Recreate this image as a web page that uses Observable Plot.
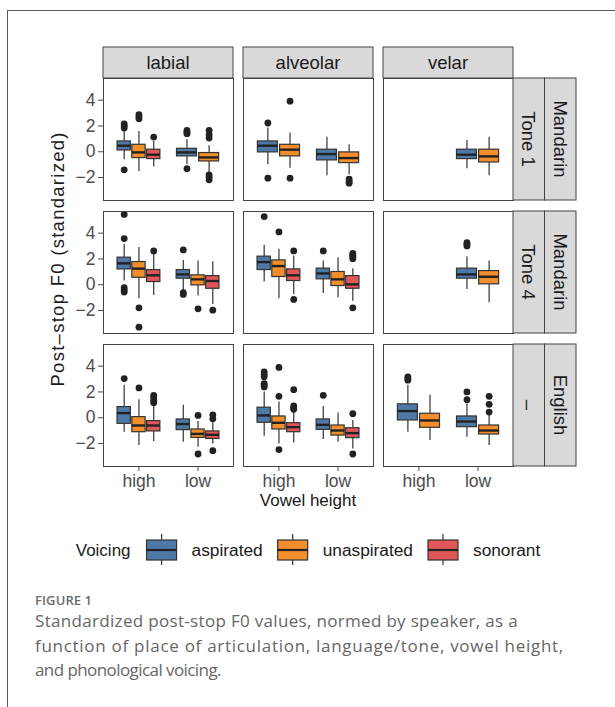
<!DOCTYPE html>
<html><head><meta charset="utf-8">
<script src="https://cdn.jsdelivr.net/npm/d3@7"></script>
<script src="https://cdn.jsdelivr.net/npm/@observablehq/plot@0.6"></script>
<style>
body{margin:0;background:#fff;}
#frame{position:absolute;left:7px;top:10px;width:640px;height:720px;border-left:1px solid #5a5a5a;border-top:1px solid #5a5a5a;}
#chart{position:absolute;left:0;top:0;}
#figlabel{position:absolute;left:35px;top:591px;font-family:"Open Sans";font-size:13px;line-height:18px;font-weight:600;color:#6b6b6b;letter-spacing:0.1px;}
#caption{position:absolute;left:35px;top:609px;font-family:"Open Sans";font-size:17px;line-height:24.5px;color:#666;white-space:nowrap;}
#caption span{display:inline-block;}
</style></head><body>
<div id="frame"></div>
<div id="chart"></div>
<div id="figlabel">FIGURE 1</div>
<div id="caption"><span class="cl">Standardized post-stop F0 values, normed by speaker, as a</span><br><span class="cl">function of place of articulation, language/tone, vowel height,</span><br><span class="cl">and phonological voicing.</span></div>
<script>
const places = ["labial", "alveolar", "velar"];
const tones = ["Tone 1", "Tone 4", "–"];
const languages = ["Mandarin", "Mandarin", "English"];
const heights = ["high", "low"];
const voicings = ["aspirated", "unaspirated", "sonorant"];
const voicingColors = ["#4E79A7", "#F28E2B", "#E15759"];
const yTicks = [-2, 0, 2, 4];

// [place, height, voicing, lowerWhisker, q1, median, q3, upperWhisker, outliers]
const tone1Boxes = [
  ["labial", "high", "aspirated", -0.62, 0.10, 0.47, 0.80, 1.58, [2.15, 2.0, 1.85, -1.40]],
  ["labial", "high", "unaspirated", -1.53, -0.49, -0.05, 0.54, 1.58, [2.88, 2.70, 2.55]],
  ["labial", "high", "sonorant", -1.19, -0.57, -0.23, 0.16, 0.80, [1.14]],
  ["labial", "low", "aspirated", -1.01, -0.36, -0.05, 0.23, 0.93, [1.66, 1.50, 1.40, -1.32]],
  ["labial", "low", "unaspirated", -1.61, -0.75, -0.44, -0.10, 0.47, [1.66, 1.32, 1.06, -1.79, -1.97, -2.18]],
  ["alveolar", "high", "aspirated", -1.01, -0.05, 0.47, 0.80, 1.84, [2.23, -2.05]],
  ["alveolar", "high", "unaspirated", -1.27, -0.36, 0.16, 0.54, 1.45, [3.92, -2.05]],
  ["alveolar", "low", "aspirated", -1.87, -0.67, -0.18, 0.16, 1.12, []],
  ["alveolar", "low", "unaspirated", -1.79, -0.88, -0.49, -0.05, 0.54, [-2.13, -2.31, -2.44]],
  ["velar", "low", "aspirated", -1.32, -0.57, -0.23, 0.16, 0.88, []],
  ["velar", "low", "unaspirated", -1.87, -0.83, -0.36, 0.16, 1.12, []]
];
const tone4Boxes = [
  ["labial", "high", "aspirated", 0.29, 1.19, 1.66, 2.10, 3.14, [5.45, 3.58, -0.23, -0.42, -0.57]],
  ["labial", "high", "unaspirated", -1.09, 0.54, 1.25, 1.76, 2.88, [-1.79, -3.29]],
  ["labial", "high", "sonorant", -0.83, 0.21, 0.73, 1.14, 2.36, [2.62]],
  ["labial", "low", "aspirated", -0.49, 0.47, 0.80, 1.14, 1.89, [2.70, -0.62, -0.75]],
  ["labial", "low", "unaspirated", -0.88, -0.05, 0.42, 0.73, 1.84, [-1.87]],
  ["labial", "low", "sonorant", -1.53, -0.31, 0.29, 0.67, 1.79, [-1.97]],
  ["alveolar", "high", "aspirated", 0.21, 1.14, 1.76, 2.18, 3.06, [5.29]],
  ["alveolar", "high", "unaspirated", -1.09, 0.60, 1.45, 1.89, 2.75, [4.10]],
  ["alveolar", "high", "sonorant", -0.75, 0.29, 0.73, 1.19, 2.23, [2.62, -1.14]],
  ["alveolar", "low", "aspirated", -0.67, 0.42, 0.88, 1.25, 1.84, [2.62]],
  ["alveolar", "low", "unaspirated", -1.01, -0.10, 0.42, 0.99, 2.10, []],
  ["alveolar", "low", "sonorant", -1.27, -0.31, 0.03, 0.67, 1.25, [2.44, 2.28, 2.18, 2.02, -1.79]],
  ["velar", "low", "aspirated", -0.36, 0.47, 0.80, 1.25, 2.18, [3.27, 3.14, 3.01]],
  ["velar", "low", "unaspirated", -1.40, 0.03, 0.62, 1.06, 1.84, []]
];
const englishBoxes = [
  ["labial", "high", "aspirated", -1.12, -0.47, 0.36, 0.83, 2.52, [3.04]],
  ["labial", "high", "unaspirated", -2.16, -1.12, -0.60, 0.05, 1.40, [2.31]],
  ["labial", "high", "sonorant", -1.84, -1.06, -0.60, -0.26, 0.91, [1.74, 1.56, 1.35, 1.17]],
  ["labial", "low", "aspirated", -1.90, -0.96, -0.49, -0.13, 0.96, []],
  ["labial", "low", "unaspirated", -2.29, -1.56, -1.25, -0.91, -0.29, [0.18, -2.81]],
  ["labial", "low", "sonorant", -2.03, -1.64, -1.32, -1.06, -0.39, [0.23, -0.08, -2.55]],
  ["alveolar", "high", "aspirated", -1.43, -0.39, 0.18, 0.78, 2.00, [3.56, 3.35, 3.17, 2.65, 2.52, 2.39]],
  ["alveolar", "high", "unaspirated", -2.03, -0.91, -0.39, 0.10, 1.22, [3.90, 1.66, -2.47]],
  ["alveolar", "high", "sonorant", -1.95, -1.12, -0.73, -0.42, 0.44, [2.18, 0.91, 0.75, 0.65]],
  ["alveolar", "low", "aspirated", -1.69, -0.94, -0.55, -0.13, 0.88, [1.74]],
  ["alveolar", "low", "unaspirated", -1.90, -1.38, -0.99, -0.60, 0.36, []],
  ["alveolar", "low", "sonorant", -2.42, -1.58, -1.19, -0.81, -0.21, [0.31, -2.81]],
  ["velar", "high", "aspirated", -1.12, -0.21, 0.52, 1.04, 2.52, [3.17, 3.04, 2.91]],
  ["velar", "high", "unaspirated", -1.77, -0.78, -0.21, 0.31, 1.74, []],
  ["velar", "low", "aspirated", -1.51, -0.73, -0.29, 0.10, 1.09, [2.00, 1.40]],
  ["velar", "low", "unaspirated", -2.16, -1.30, -0.99, -0.60, 0.18, [1.66, 1.04, 0.44]]
];

const boxes = [];
[[tone1Boxes, tones[0]], [tone4Boxes, tones[1]], [englishBoxes, tones[2]]].forEach(([arr, tone]) =>
  arr.forEach(([place, height, voicing, lw, q1, med, q3, uw, out]) =>
    boxes.push({tone, place, height, voicing, lw, q1, med, q3, uw, out})));

// position_dodge2-like placement within each vowel-height slot
const dodgeWidth = 0.75, boxFill = 0.9;
const groups = d3.group(boxes, d => d.tone, d => d.place, d => d.height);
for (const b of boxes) {
  const g = groups.get(b.tone).get(b.place).get(b.height)
    .slice().sort((a, c) => voicings.indexOf(a.voicing) - voicings.indexOf(c.voicing));
  const n = g.length, i = g.indexOf(b), w = dodgeWidth / n;
  b.xc = heights.indexOf(b.height) + 1 + (i - (n - 1) / 2) * w;
  b.x1 = b.xc - boxFill * w / 2;
  b.x2 = b.xc + boxFill * w / 2;
}
const outliers = boxes.flatMap(b => b.out.map(v => ({tone: b.tone, place: b.place, xc: b.xc, v})));

const font = "'Liberation Sans', Arial, sans-serif";
const plot = Plot.plot({
  width: 615, height: 575,
  marginLeft: 103, marginRight: 102, marginTop: 78, marginBottom: 109,
  style: {fontFamily: font, fontSize: "17.5px", color: "#4d4d4d", background: "transparent", overflow: "visible"},
  fx: {domain: places, paddingInner: 10 / 140, paddingOuter: 0, axis: null, label: null},
  fy: {domain: tones, paddingInner: 11 / 133, paddingOuter: 0, axis: null, label: null},
  x: {domain: [0.4, 2.6], ticks: [1, 2], tickFormat: d => heights[d - 1], tickSize: 5, tickPadding: 3, label: null},
  y: {domain: [-3.78, 5.68], ticks: yTicks, tickSize: 5, tickPadding: 3, label: null},
  color: {domain: voicings, range: voicingColors},
  marks: [
    Plot.ruleX(boxes, {fx: "place", fy: "tone", x: "xc", y1: "lw", y2: "q1", stroke: "#333", strokeWidth: 1.2}),
    Plot.ruleX(boxes, {fx: "place", fy: "tone", x: "xc", y1: "q3", y2: "uw", stroke: "#333", strokeWidth: 1.2}),
    Plot.rect(boxes, {fx: "place", fy: "tone", x1: "x1", x2: "x2", y1: "q1", y2: "q3", fill: "voicing", stroke: "#333", strokeWidth: 1.2}),
    Plot.ruleY(boxes, {fx: "place", fy: "tone", y: "med", x1: "x1", x2: "x2", stroke: "#222", strokeWidth: 2.4}),
    Plot.dot(outliers, {fx: "place", fy: "tone", x: "xc", y: "v", r: 3.4, fill: "#222", stroke: null}),
    Plot.frame({stroke: "#444", strokeWidth: 1})
  ]
});
document.getElementById("chart").appendChild(plot);

// strips, titles, legend
const svg = d3.select(plot);
const fxS = plot.scale("fx"), fyS = plot.scale("fy");
const bw = fxS.bandwidth, bh = fyS.bandwidth;
const stripH = 31, stripW = 31.5;
const ov = svg.append("g").attr("font-family", font).attr("font-size", 18.5).attr("fill", "#1a1a1a");
const top0 = fyS.apply(tones[0]);
places.forEach(p => {
  const x = fxS.apply(p);
  ov.append("rect").attr("x", x).attr("y", top0 - stripH).attr("width", bw).attr("height", stripH)
    .attr("fill", "#D9D9D9").attr("stroke", "#444").attr("stroke-width", 1);
  ov.append("text").attr("x", x + bw / 2).attr("y", top0 - stripH / 2).attr("text-anchor", "middle")
    .attr("dy", "0.36em").text(p);
});
const right0 = fxS.apply(places[places.length - 1]) + bw;
tones.forEach((t, i) => {
  const y = fyS.apply(t);
  [t, languages[i]].forEach((lab, j) => {
    const x = right0 + j * stripW;
    ov.append("rect").attr("x", x).attr("y", y).attr("width", stripW).attr("height", bh)
      .attr("fill", "#D9D9D9").attr("stroke", "#444").attr("stroke-width", 1);
    const cx = x + stripW / 2, cy = y + bh / 2;
    ov.append("text").attr("x", cx).attr("y", cy).attr("text-anchor", "middle").attr("dy", "0.36em")
      .attr("transform", `rotate(90,${cx},${cy})`).text(lab);
  });
});
const left0 = fxS.apply(places[0]);
const midX = (left0 + right0) / 2;
const bottom0 = fyS.apply(tones[tones.length - 1]) + bh;
ov.append("text").attr("x", midX).attr("y", bottom0 + 40).attr("text-anchor", "middle").attr("font-size", 17).text("Vowel height");
const midY = (top0 - stripH + bottom0) / 2 + 3;
ov.append("text").attr("transform", `translate(64,${midY}) rotate(-90)`).attr("text-anchor", "middle").attr("font-size", 18.5)
  .attr("textLength", 254).attr("lengthAdjust", "spacing")
  .text("Post–stop F0 (standarized)");

// legend
const lg = ov.append("g").attr("text-anchor", "start");
const legY = bottom0 + 84;
const title = lg.append("text").attr("x", 0).attr("y", legY).attr("dy", "0.36em").attr("font-size", 17).text("Voicing");
let cx = title.node().getComputedTextLength() + 16;
voicings.forEach((v, i) => {
  const k = lg.append("g").attr("transform", `translate(${cx},0)`);
  k.append("line").attr("x1", 15).attr("x2", 15).attr("y1", legY - 16).attr("y2", legY + 15).attr("stroke", "#333").attr("stroke-width", 1.2);
  k.append("rect").attr("x", 0).attr("y", legY - 10).attr("width", 30).attr("height", 20)
    .attr("fill", voicingColors[i]).attr("stroke", "#333").attr("stroke-width", 1.2);
  k.append("line").attr("x1", 0).attr("x2", 30).attr("y1", legY).attr("y2", legY).attr("stroke", "#222").attr("stroke-width", 2.2);
  cx += 30 + 15;
  const t = lg.append("text").attr("x", cx).attr("y", legY).attr("dy", "0.36em").attr("font-size", 17.3).text(v);
  cx += t.node().getComputedTextLength() + (i < voicings.length - 1 ? 15 : 0);
});
lg.attr("transform", `translate(${midX - cx / 2},0)`);

// fit each caption line to the reference's line width
const lineWidths = [483, 529, 186];
document.querySelectorAll("#caption .cl").forEach((el, i) => {
  const w = el.getBoundingClientRect().width;
  el.style.letterSpacing = ((lineWidths[i] - w) / el.textContent.length) + "px";
});
</script>
</body></html>
